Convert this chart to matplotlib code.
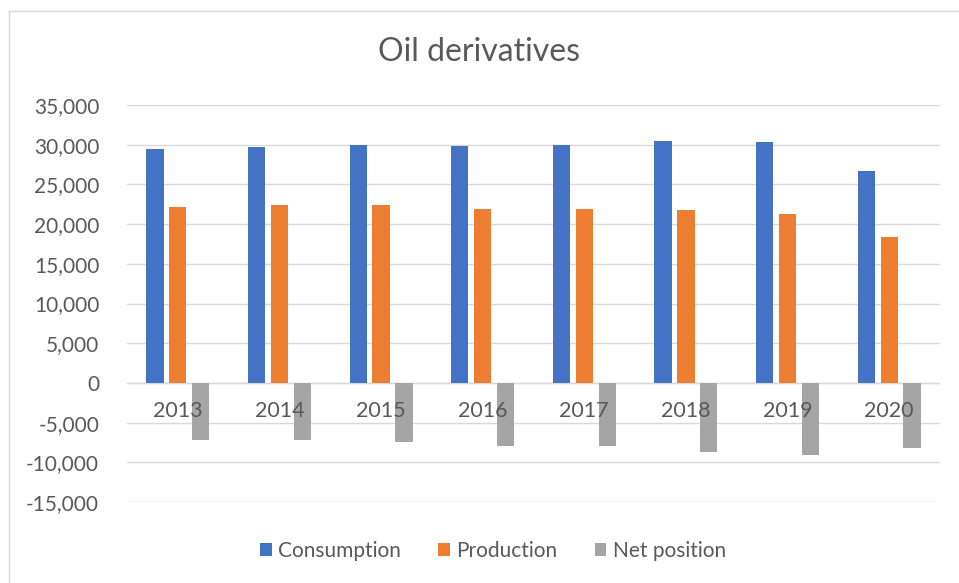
import numpy as np
import matplotlib.pyplot as plt
from matplotlib.ticker import FuncFormatter

plt.rcParams['font.family'] = ['Lato', 'DejaVu Sans']

years = ['2013', '2014', '2015', '2016', '2017', '2018', '2019', '2020']
consumption = [29500, 29700, 30000, 29850, 30000, 30500, 30350, 26700]
production = [22100, 22400, 22450, 21950, 21950, 21800, 21250, 18400]
net_position = [-7200, -7200, -7400, -7900, -7900, -8750, -9100, -8150]

series = [('Consumption', consumption, '#4472c4'),
          ('Production', production, '#ed7d31'),
          ('Net position', net_position, '#a5a5a5')]

fig = plt.figure(figsize=(9.59, 5.83), dpi=100)
ax = fig.add_axes([127 / 959, 1 - 502 / 583, 813 / 959, 397 / 583])

x = np.arange(len(years))
width = 0.17
offsets = [-0.225, 0.0, 0.225]
for (name, vals, col), off in zip(series, offsets):
    ax.bar(x + off, vals, width, color=col, label=name, zorder=3)

ax.set_xlim(-0.5, len(years) - 0.5)
ax.set_ylim(-15000, 35000)
ax.set_yticks(np.arange(-15000, 35001, 5000))
ax.yaxis.set_major_formatter(FuncFormatter(lambda v, p: f'{int(v):,}'))
ax.grid(axis='y', color='#d9d9d9', linewidth=1, zorder=0)
ax.axhline(0, color='#d9d9d9', linewidth=1, zorder=1)
for s in ax.spines.values():
    s.set_visible(False)
ax.tick_params(axis='y', length=0, pad=20, labelsize=15, labelcolor='#595959')
ax.set_xticks([])

# year labels sit just under the zero line, drawn over the bars
for xi, yr in zip(x, years):
    ax.text(xi, -3500, yr, ha='center', va='center', fontsize=15.5,
            color='#595959', zorder=5)

fig.text(0.5, 1 - 52 / 583, 'Oil derivatives', ha='center', va='center',
         fontsize=23, color='#595959')

ax.legend(loc='center', bbox_to_anchor=(493 / 959, 1 - 551 / 583),
          bbox_transform=fig.transFigure, ncol=3, frameon=False,
          fontsize=15, labelcolor='#595959', handlelength=0.55,
          handleheight=0.55, handletextpad=0.3, columnspacing=1.8)

# chart frame edges
fig.add_artist(plt.Line2D([9 / 959, 1], [1 - 11 / 583, 1 - 11 / 583],
                          transform=fig.transFigure, color='#d9d9d9', lw=1))
fig.add_artist(plt.Line2D([9 / 959, 9 / 959], [0, 1 - 11 / 583],
                          transform=fig.transFigure, color='#d9d9d9', lw=1))

fig.savefig('out.png', dpi=100)
